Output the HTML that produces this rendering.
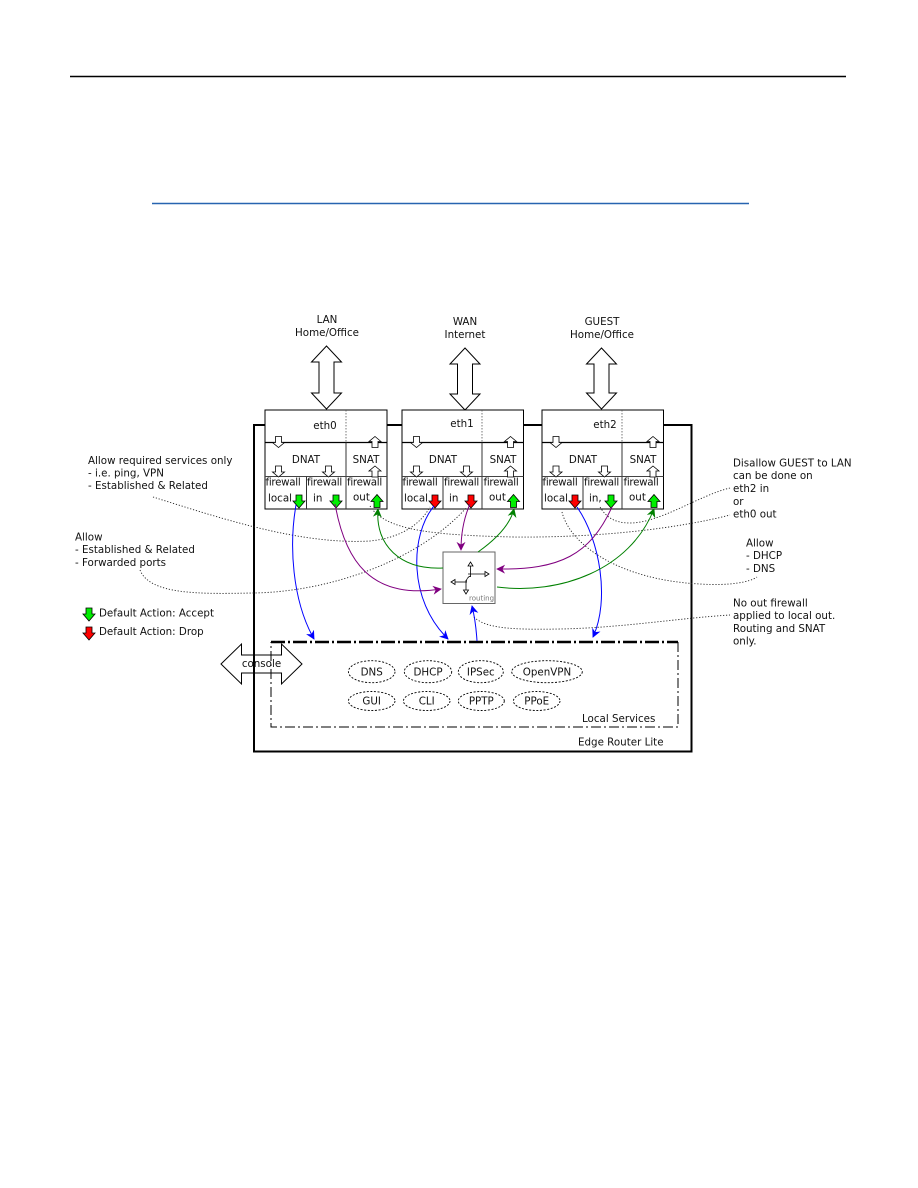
<!DOCTYPE html>
<html><head><meta charset="utf-8"><style>
html,body{margin:0;padding:0;background:#fff;}
svg{display:block;}
text{font-family:"DejaVu Sans","Liberation Sans",sans-serif;font-size:10.3px;fill:#111;}
</style></head><body>
<svg width="918" height="1188" viewBox="0 0 918 1188" xmlns="http://www.w3.org/2000/svg">
<defs>
<marker id="mb" viewBox="0 0 10 10" refX="9" refY="5" markerWidth="9" markerHeight="9" markerUnits="userSpaceOnUse" orient="auto"><path d="M0,0 L10,5 L0,10 L3,5 z" fill="#0000ff"/></marker>
<marker id="mp" viewBox="0 0 10 10" refX="9" refY="5" markerWidth="9" markerHeight="9" markerUnits="userSpaceOnUse" orient="auto"><path d="M0,0 L10,5 L0,10 L3,5 z" fill="#800080"/></marker>
<marker id="mg" viewBox="0 0 10 10" refX="9" refY="5" markerWidth="9" markerHeight="9" markerUnits="userSpaceOnUse" orient="auto"><path d="M0,0 L10,5 L0,10 L3,5 z" fill="#008000"/></marker>
</defs>

<!-- header lines -->
<line x1="70" y1="76.5" x2="846" y2="76.5" stroke="#000" stroke-width="1.5"/>
<line x1="152" y1="203.5" x2="749" y2="203.5" stroke="#2764b0" stroke-width="1.5"/>

<!-- network labels -->
<text x="327" y="323" text-anchor="middle">LAN</text>
<text x="327" y="336" text-anchor="middle">Home/Office</text>
<text x="465" y="325" text-anchor="middle">WAN</text>
<text x="465" y="338" text-anchor="middle">Internet</text>
<text x="602" y="325" text-anchor="middle">GUEST</text>
<text x="602" y="338" text-anchor="middle">Home/Office</text>

<!-- big double arrows -->
<g fill="#fff" stroke="#000" stroke-width="1">
<path d="M326.5,346 l15,16 h-7.5 v31 h7.5 l-15,16 l-15,-16 h7.5 v-31 h-7.5 z"/>
<path d="M465,348 l15,16 h-7.5 v30 h7.5 l-15,16 l-15,-16 h7.5 v-30 h-7.5 z"/>
<path d="M601.5,348 l15,16 h-7.5 v29 h7.5 l-15,16 l-15,-16 h7.5 v-29 h-7.5 z"/>
</g>

<!-- router outer box -->
<rect x="254" y="425" width="437.5" height="326.5" fill="none" stroke="#000" stroke-width="2"/>

<!-- local services box -->
<g fill="none" stroke="#000">
<line x1="271" y1="642" x2="678" y2="642" stroke-width="2.5" stroke-dasharray="14 3 2 3"/>
<path d="M678,642 V727 H271 V642" stroke-width="1" stroke-dasharray="10 3 2 3"/>
</g>
<text x="582" y="722">Local Services</text>
<text x="578" y="745.5">Edge Router Lite</text>

<!-- console arrow -->
<path d="M221,664 l20.5,-20 v11 h40 v-11 l20.5,20 l-20.5,20 v-11 h-40 v11 z" fill="none" stroke="#000" stroke-width="1"/>
<text x="261.5" y="667" text-anchor="middle">console</text>

<!-- service ellipses -->
<g fill="none" stroke="#000" stroke-width="0.9" stroke-dasharray="2 1.6">
<ellipse cx="371.7" cy="671.7" rx="23.3" ry="11"/>
<ellipse cx="428" cy="671.7" rx="23.7" ry="11"/>
<ellipse cx="480.8" cy="671.7" rx="22.5" ry="11"/>
<ellipse cx="547" cy="671.7" rx="35.3" ry="11"/>
<ellipse cx="371.7" cy="701" rx="23.3" ry="9.5"/>
<ellipse cx="426.7" cy="701" rx="23.3" ry="9.5"/>
<ellipse cx="481.3" cy="701" rx="23" ry="9.5"/>
<ellipse cx="536.7" cy="701" rx="23.3" ry="9.5"/>
</g>
<g text-anchor="middle">
<text x="371.7" y="675.5">DNS</text>
<text x="428" y="675.5">DHCP</text>
<text x="480.8" y="675.5">IPSec</text>
<text x="547" y="675.5">OpenVPN</text>
<text x="371.7" y="704.5">GUI</text>
<text x="426.7" y="704.5">CLI</text>
<text x="481.3" y="704.5">PPTP</text>
<text x="536.7" y="704.5">PPoE</text>
</g>

<!-- interface boxes -->
<g transform="translate(265,0)">
<rect x="0" y="410" width="122" height="99" fill="#fff" stroke="#000" stroke-width="1"/>
<line x1="0" y1="442.5" x2="122" y2="442.5" stroke="#000" stroke-width="1.3"/>
<line x1="81" y1="410" x2="81" y2="442.5" stroke="#555" stroke-width="0.8" stroke-dasharray="1.5 1.5"/>
<line x1="81" y1="442.5" x2="81" y2="509" stroke="#333" stroke-width="1"/>
<line x1="0" y1="476.5" x2="122" y2="476.5" stroke="#444" stroke-width="1"/>
<line x1="41.5" y1="476.5" x2="41.5" y2="509" stroke="#333" stroke-width="1"/>
<text x="60" y="429" text-anchor="middle">eth0</text>
<text x="41" y="463" text-anchor="middle">DNAT</text>
<text x="101" y="463" text-anchor="middle">SNAT</text>
<text x="0.5" y="485.5" letter-spacing="-0.3">firewall</text>
<text x="42" y="485.5" letter-spacing="-0.3">firewall</text>
<text x="82" y="485.5" letter-spacing="-0.3">firewall</text>
<text x="3" y="501.5">local</text>
<text x="48" y="501.5">in</text>
<text x="88" y="500.5">out</text>
<g fill="#fff" stroke="#000" stroke-width="0.8">
<path d="M10.5,436.5 h6 v6 h3 l-6,5 l-6,-5 h3 z"/>
<path d="M10.5,466 h6 v6 h3 l-6,5 l-6,-5 h3 z"/>
<path d="M60.5,466 h6 v6 h3 l-6,5 l-6,-5 h3 z"/>
<path d="M110,436.5 l6,5 h-3 v6 h-6 v-6 h-3 z"/>
<path d="M110,466 l6,5 h-3 v6 h-6 v-6 h-3 z"/>
</g>
<g stroke="#000" stroke-width="0.8">
<path d="M31,495 h6 v6 h3 l-6,7 l-6,-7 h3 z" fill="#00ee00"/>
<path d="M68,495 h6 v6 h3 l-6,7 l-6,-7 h3 z" fill="#00ee00"/>
<path d="M112,494.5 l6,7 h-3 v6 h-6 v-6 h-3 z" fill="#00ee00"/>
</g>
</g>

<g transform="translate(402,0)">
<rect x="0" y="410" width="121.5" height="99" fill="#fff" stroke="#000" stroke-width="1"/>
<line x1="0" y1="442.5" x2="121.5" y2="442.5" stroke="#000" stroke-width="1.3"/>
<line x1="80" y1="410" x2="80" y2="442.5" stroke="#555" stroke-width="0.8" stroke-dasharray="1.5 1.5"/>
<line x1="80" y1="442.5" x2="80" y2="509" stroke="#333" stroke-width="1"/>
<line x1="0" y1="476.5" x2="121.5" y2="476.5" stroke="#444" stroke-width="1"/>
<line x1="41" y1="476.5" x2="41" y2="509" stroke="#333" stroke-width="1"/>
<text x="60" y="427" text-anchor="middle">eth1</text>
<text x="41" y="463" text-anchor="middle">DNAT</text>
<text x="101" y="463" text-anchor="middle">SNAT</text>
<text x="0.5" y="485.5" letter-spacing="-0.3">firewall</text>
<text x="42" y="485.5" letter-spacing="-0.3">firewall</text>
<text x="81.5" y="485.5" letter-spacing="-0.3">firewall</text>
<text x="2" y="501.5">local</text>
<text x="47" y="501.5">in</text>
<text x="87" y="500.5">out</text>
<g fill="#fff" stroke="#000" stroke-width="0.8">
<path d="M11.5,436.5 h6 v6 h3 l-6,5 l-6,-5 h3 z"/>
<path d="M11.5,466 h6 v6 h3 l-6,5 l-6,-5 h3 z"/>
<path d="M61.5,466 h6 v6 h3 l-6,5 l-6,-5 h3 z"/>
<path d="M108.5,436.5 l6,5 h-3 v6 h-6 v-6 h-3 z"/>
<path d="M108.5,466 l6,5 h-3 v6 h-6 v-6 h-3 z"/>
</g>
<g stroke="#000" stroke-width="0.8">
<path d="M30,495 h6 v6 h3 l-6,7 l-6,-7 h3 z" fill="#ff0000"/>
<path d="M66,495 h6 v6 h3 l-6,7 l-6,-7 h3 z" fill="#ff0000"/>
<path d="M111.5,494.5 l6,7 h-3 v6 h-6 v-6 h-3 z" fill="#00ee00"/>
</g>
</g>

<g transform="translate(542,0)">
<rect x="0" y="410" width="121.5" height="99" fill="#fff" stroke="#000" stroke-width="1"/>
<line x1="0" y1="442.5" x2="121.5" y2="442.5" stroke="#000" stroke-width="1.3"/>
<line x1="80" y1="410" x2="80" y2="442.5" stroke="#555" stroke-width="0.8" stroke-dasharray="1.5 1.5"/>
<line x1="80" y1="442.5" x2="80" y2="509" stroke="#333" stroke-width="1"/>
<line x1="0" y1="476.5" x2="121.5" y2="476.5" stroke="#444" stroke-width="1"/>
<line x1="41" y1="476.5" x2="41" y2="509" stroke="#333" stroke-width="1"/>
<text x="63" y="428" text-anchor="middle">eth2</text>
<text x="41" y="463" text-anchor="middle">DNAT</text>
<text x="101" y="463" text-anchor="middle">SNAT</text>
<text x="0.5" y="485.5" letter-spacing="-0.3">firewall</text>
<text x="42" y="485.5" letter-spacing="-0.3">firewall</text>
<text x="81.5" y="485.5" letter-spacing="-0.3">firewall</text>
<text x="2" y="501.5">local</text>
<text x="47" y="501.5">in,</text>
<text x="87" y="500.5">out</text>
<g fill="#fff" stroke="#000" stroke-width="0.8">
<path d="M11,436.5 h6 v6 h3 l-6,5 l-6,-5 h3 z"/>
<path d="M11,466 h6 v6 h3 l-6,5 l-6,-5 h3 z"/>
<path d="M59.5,466 h6 v6 h3 l-6,5 l-6,-5 h3 z"/>
<path d="M111,436.5 l6,5 h-3 v6 h-6 v-6 h-3 z"/>
<path d="M111,466 l6,5 h-3 v6 h-6 v-6 h-3 z"/>
</g>
<g stroke="#000" stroke-width="0.8">
<path d="M30,495 h6 v6 h3 l-6,7 l-6,-7 h3 z" fill="#ff0000"/>
<path d="M66,495 h6 v6 h3 l-6,7 l-6,-7 h3 z" fill="#00ee00"/>
<path d="M112,494.5 l6,7 h-3 v6 h-6 v-6 h-3 z" fill="#00ee00"/>
</g>
</g>

<!-- routing box -->
<rect x="443" y="552" width="52" height="51.5" fill="#fff" stroke="#666" stroke-width="1"/>
<g stroke="#000" stroke-width="0.8" fill="#fff">
<line x1="470.5" y1="577" x2="470.5" y2="566"/>
<path d="M470.5,562 l2.5,4 h-5 z"/>
<line x1="468" y1="574" x2="485" y2="574"/>
<path d="M489,574 l-4,2.5 v-5 z"/>
<line x1="467" y1="582" x2="455" y2="582"/>
<path d="M451,582 l4,-2.5 v5 z"/>
<line x1="466" y1="580" x2="466" y2="590"/>
<path d="M466,594 l-2.5,-4 h5 z"/>
<path d="M466,582 Q467,577 470.5,576" fill="none"/>
</g>
<text x="469" y="600.5" style="font-size:7px;fill:#777">routing</text>

<!-- dotted annotation connectors -->
<g fill="none" stroke="#222" stroke-width="0.9" stroke-dasharray="1.2 1.8">
<path d="M153,497 C220,518 300,545 370,541 C400,538 420,525 430,507"/>
<path d="M140,570 C150,595 200,594 253,593 C330,592 420,560 467,507"/>
<path d="M370,506 C385,530 430,535 513,537 C600,538 680,528 730,515"/>
<path d="M730,488 C700,495 660,523 630,523 C612,523 605,515 600,507"/>
<path d="M562,512 C570,545 620,580 700,584 C730,586 750,582 757,577"/>
<path d="M474,617 C485,628 510,630 560,629 C620,628 680,618 730,615"/>
</g>

<!-- colored connectors -->
<g fill="none" stroke-width="1">
<path d="M296,505 C289,545 292,600 314,639" stroke="#0000ff" marker-end="url(#mb)"/>
<path d="M434,506 C410,535 408,600 448,639" stroke="#0000ff" marker-end="url(#mb)"/>
<path d="M577,507 C600,540 610,600 593,637" stroke="#0000ff" marker-end="url(#mb)"/>
<path d="M477,641 C476,625 474,614 472,606" stroke="#0000ff" marker-end="url(#mb)"/>
<path d="M335,504 C345,560 370,600 441,589" stroke="#800080" marker-end="url(#mp)"/>
<path d="M470,504 C463,520 461,535 461,550" stroke="#800080" marker-end="url(#mp)"/>
<path d="M612,507 C590,555 560,570 497,569" stroke="#800080" marker-end="url(#mp)"/>
<path d="M443,568 C400,570 375,545 378,509" stroke="#008000" marker-end="url(#mg)"/>
<path d="M478,552 C495,540 510,525 514,509" stroke="#008000" marker-end="url(#mg)"/>
<path d="M497,587 C560,595 630,570 654,509" stroke="#008000" marker-end="url(#mg)"/>
</g>

<!-- left annotations -->
<text x="88" y="464">Allow required services only</text>
<text x="88" y="476.5">- i.e. ping, VPN</text>
<text x="88" y="489">- Established &amp; Related</text>
<text x="75" y="540.5">Allow</text>
<text x="75" y="553">- Established &amp; Related</text>
<text x="75" y="566">- Forwarded ports</text>

<!-- legend -->
<g stroke="#000" stroke-width="0.8">
<path d="M86,608 h6 v6 h3 l-6,7 l-6,-7 h3 z" fill="#00ee00"/>
<path d="M86,627 h6 v6 h3 l-6,7 l-6,-7 h3 z" fill="#ff0000"/>
</g>
<text x="99" y="616.5">Default Action: Accept</text>
<text x="99" y="635">Default Action: Drop</text>

<!-- right annotations -->
<text x="733" y="466.5">Disallow GUEST to LAN</text>
<text x="733" y="479">can be done on</text>
<text x="733" y="492">eth2 in</text>
<text x="733" y="505">or</text>
<text x="733" y="517.5">eth0 out</text>
<text x="746" y="546.5">Allow</text>
<text x="746" y="559">- DHCP</text>
<text x="746" y="572">- DNS</text>
<text x="733" y="606.5">No out firewall</text>
<text x="733" y="619">applied to local out.</text>
<text x="733" y="632">Routing and SNAT</text>
<text x="733" y="644.5">only.</text>
</svg>
</body></html>
